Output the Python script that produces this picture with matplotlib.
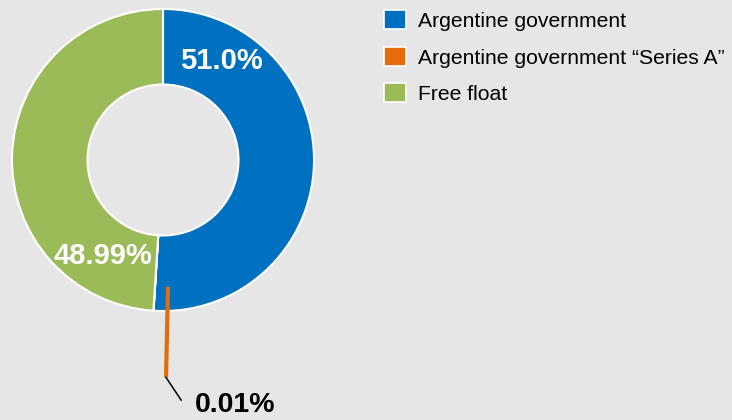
import numpy as np
import matplotlib
matplotlib.use("Agg")
import matplotlib.pyplot as plt
from matplotlib.patches import Patch

# data
labels = ["Argentine government", "Argentine government \u201cSeries A\u201d", "Free float"]
shares = [51.0, 0.01, 48.99]
pct_labels = ["51.0%", "0.01%", "48.99%"]
colors = ["#0070C0", "#E46C0A", "#9BBB59"]

plt.rcParams["font.family"] = ["Liberation Sans", "DejaVu Sans"]
bg = "#e6e6e6"

W, H = 732, 420
fig = plt.figure(figsize=(W / 100, H / 100), dpi=100, facecolor=bg)
ax = fig.add_axes([0, 0, 1, 1])
ax.set_facecolor(bg)

# map pixels to data: pie centre at (163, 160) px, radius 151 px
cx, cy, R = 163, 160, 151

wedges, _ = ax.pie(shares, colors=colors, startangle=90, counterclock=False,
                   radius=1, wedgeprops=dict(width=0.5, edgecolor="white", linewidth=1.5))
ax.set_xlim(-cx / R, (W - cx) / R)
ax.set_ylim(-(H - cy) / R, cy / R)
ax.set_aspect("auto")
ax.axis("off")

# percentage labels on the ring
ax.text(0.39, 0.655, pct_labels[0], color="white", fontsize=21, fontweight="bold",
        ha="center", va="center")
ax.text(-0.40, -0.635, pct_labels[2], color="white", fontsize=21, fontweight="bold",
        ha="center", va="center")

# leader for the tiny slice
ax.plot([0.033, 0.020], [-0.84, -1.44], color=colors[1], lw=3, solid_capstyle="butt", zorder=5)
ax.plot([0.020, 0.12], [-1.44, -1.59], color="black", lw=1.1, zorder=5)
ax.text(0.48, -1.672, pct_labels[1], color="black", fontsize=20.5, fontweight="bold",
        ha="center", va="baseline")

handles = [Patch(facecolor=c, edgecolor="white", linewidth=1.2) for c in colors]
fig.legend(handles, labels, loc="upper left", bbox_to_anchor=(376 / W, 1 - 2 / H),
           frameon=False, fontsize=15.2, handlelength=1.0, handleheight=1.0,
           handletextpad=0.6, labelspacing=0.75, borderaxespad=0)

fig.savefig("out.png", dpi=100, facecolor=bg)
